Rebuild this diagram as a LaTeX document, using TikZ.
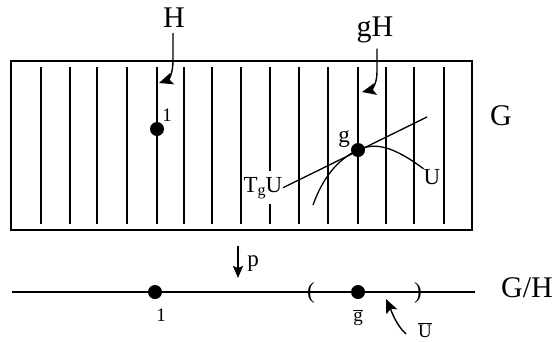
\documentclass[tikz,border=0pt]{standalone}
\usepackage{fontspec}
\setmainfont{Liberation Serif}
\usetikzlibrary{arrows.meta}
\begin{document}
\begin{tikzpicture}[x=1pt,y=-1pt,
  frame/.style={line width=1.4pt},
  fib/.style={line width=1.3pt},
  dotst/.style={circle,fill=black,inner sep=0pt,minimum size=14pt},
  big/.style={font=\fontsize{30}{34}\selectfont,inner sep=0pt},
  mid/.style={font=\fontsize{23}{27}\selectfont,inner sep=0pt},
  sml/.style={font=\fontsize{19}{22}\selectfont,inner sep=0pt},
  carrow/.style={line width=1.4pt,-{Stealth[length=14pt,width=12pt,inset=3pt]}},
  parrow/.style={line width=1.5pt,-{Stealth[length=12pt,width=10pt,inset=2pt]}},
]
\useasboundingbox (0,0) rectangle (556,341);
% the group G with cosets
\draw[frame] (11,61) rectangle (472,230);
\foreach \x in {41,70,97,127,157,184,212,241,270,299,328,358,386,414,444}
  \draw[fib] (\x,67) -- (\x,224);
\node[big,anchor=base] (H) at (174,27) {H};
\node[big,anchor=base] (gH) at (375,36) {gH};
\node[big,anchor=base] (G) at (501,125) {G};
\coordinate (hTip) at (159,83);
\coordinate (gTip) at (362,92);
\draw[carrow] ([xshift=-1pt,yshift=-6pt]H.south) -- (173,60) .. controls (173,75) and (168,80) .. (hTip);
\draw[carrow] ([xshift=2pt,yshift=-6pt]gH.south) -- (377,72) .. controls (377,85) and (371,90) .. (gTip);
\node[dotst] (one) at (157,129) {};
\node[dotst] (g) at (358,150) {};
\node[sml,anchor=base] (l1) at (167,121) {1};
\node[mid,anchor=base] (lg) at (344,142) {g};
\node[mid,anchor=base,fill=white,inner xsep=0.5pt,inner ysep=6pt] (TgU) at (263,192) {T\raisebox{-3pt}{\fontsize{16}{18}\selectfont g}U};
\node[mid,anchor=base] (U) at (432,184) {U};
\coordinate (t2) at (427,117);
\draw[fib] (TgU.east) -- (t2);
\coordinate (u0) at (313,205);
\draw[fib] (u0) .. controls (322,180) and (336,160) .. (g.center) .. controls (375,142) and (393,146) .. (U.north west);
% quotient G/H
\coordinate (pa) at (238,246);
\coordinate (pb) at (238,278);
\draw[parrow] (pa) -- (pb);
\node[mid,anchor=base] (p) at (253,266) {p};
\coordinate (L0) at (12,292);
\coordinate (L1) at (475,292);
\draw[fib] (L0) -- (L1);
\node[dotst] (b1) at (155,292) {};
\node[dotst] (gb) at (358,292) {};
\node[mid] (lp) at (311,293) {(};
\node[mid] (rp) at (418,293) {)};
\node[sml,anchor=base] (lb1) at (161,321) {1};
\node[sml,anchor=base] (lgb) at (358,321) {$\overline{\hbox{g}}$};
\node[sml,anchor=base] (lUb) at (425,337) {$\overline{\hbox{U}}$};
\coordinate (ua) at (406,334);
\coordinate (ub) at (386,299);
\draw[carrow] (ua) .. controls (396,325) and (391,310) .. (ub);
\node[big,anchor=base] (GH) at (527,297) {G/H};
\end{tikzpicture}
\end{document}
